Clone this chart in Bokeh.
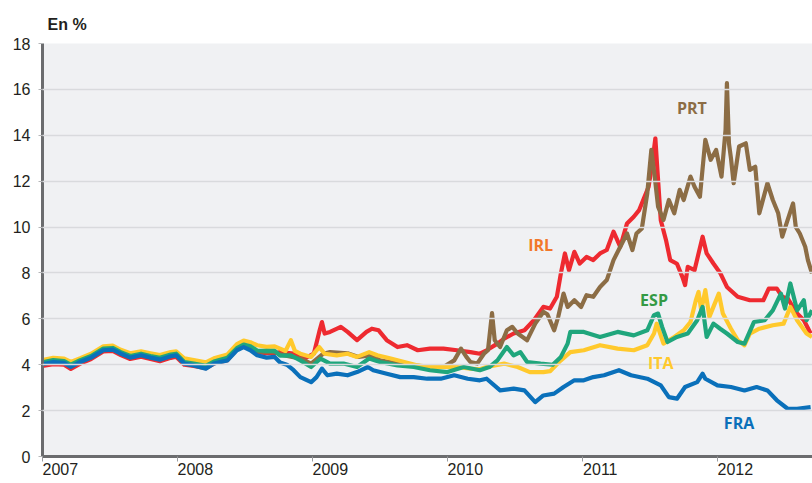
from bokeh.plotting import figure
from bokeh.models import FixedTicker, Label, LinearAxis, Range1d
from bokeh.embed import file_html
from bokeh.resources import INLINE

# ---- data (decimal years, % yields) ----
early_t = [2007.0, 2007.08, 2007.16, 2007.21, 2007.28, 2007.36, 2007.45, 2007.52, 2007.58, 2007.65,
           2007.73, 2007.80, 2007.87, 2007.95, 2007.99, 2008.05, 2008.12, 2008.21, 2008.27, 2008.37,
           2008.44, 2008.49, 2008.54, 2008.59, 2008.66, 2008.72]

fra_t = early_t + [2008.76, 2008.81, 2008.86, 2008.91, 2008.95, 2008.99, 2009.03, 2009.07, 2009.11, 2009.18,
                   2009.26, 2009.33, 2009.41, 2009.45, 2009.55, 2009.65, 2009.75, 2009.85, 2009.95, 2010.05,
                   2010.15, 2010.24, 2010.29, 2010.39, 2010.49, 2010.57, 2010.65, 2010.71, 2010.79, 2010.86,
                   2010.94, 2011.01, 2011.08, 2011.16, 2011.27, 2011.36, 2011.48, 2011.58, 2011.64, 2011.70,
                   2011.76, 2011.85, 2011.89, 2011.91, 2012.0, 2012.10, 2012.20, 2012.29, 2012.37, 2012.44,
                   2012.52, 2012.59, 2012.69]
fra_v = [4.02, 4.12, 4.08, 3.90, 4.12, 4.31, 4.63, 4.66, 4.48, 4.31, 4.41, 4.31, 4.22, 4.37, 4.41, 4.05,
         3.97, 3.83, 4.05, 4.19, 4.63, 4.77, 4.63, 4.41, 4.31, 4.34,
         4.10, 4.00, 3.76, 3.46, 3.35, 3.24, 3.46, 3.83, 3.54, 3.61,
         3.54, 3.68, 3.90, 3.76, 3.61, 3.46, 3.46, 3.39, 3.39, 3.54,
         3.39, 3.32, 3.39, 2.88, 2.96, 2.88, 2.37, 2.66, 2.74, 3.03,
         3.32, 3.32, 3.46, 3.54, 3.76, 3.54, 3.39, 3.10, 2.59, 2.52,
         3.03, 3.24, 3.61, 3.39, 3.10, 3.03, 2.88, 3.03, 2.88, 2.45,
         2.08, 2.08, 2.15]

ita_t = early_t + [2008.76, 2008.80, 2008.84, 2008.87, 2008.91, 2008.99, 2009.05, 2009.09, 2009.18, 2009.26,
                   2009.33, 2009.42, 2009.48, 2009.58, 2009.68, 2009.78, 2009.87, 2009.97, 2010.07, 2010.17,
                   2010.24, 2010.29, 2010.42, 2010.52, 2010.61, 2010.71, 2010.76, 2010.84, 2010.91, 2011.01,
                   2011.13, 2011.26, 2011.38, 2011.48, 2011.53, 2011.55, 2011.60, 2011.68, 2011.75, 2011.80,
                   2011.84, 2011.86, 2011.88, 2011.91, 2011.94, 2011.97, 2012.01, 2012.04, 2012.10, 2012.15,
                   2012.20, 2012.24, 2012.31, 2012.41, 2012.49, 2012.54, 2012.59, 2012.66, 2012.70]
ita_v = [4.20, 4.30, 4.27, 4.12, 4.28, 4.48, 4.80, 4.83, 4.65, 4.50, 4.58, 4.50, 4.42, 4.55, 4.58, 4.28,
         4.20, 4.10, 4.28, 4.45, 4.90, 5.05, 4.98, 4.85, 4.78, 4.80,
         4.70, 4.60, 5.07, 4.60, 4.48, 4.34, 4.77, 4.48, 4.41, 4.48,
         4.34, 4.55, 4.41, 4.27, 4.12, 3.97, 3.90, 3.90, 3.90, 3.83,
         3.80, 3.90, 4.05, 3.90, 3.68, 3.68, 3.72, 4.19, 4.55, 4.63,
         4.85, 4.70, 4.63, 4.85, 5.36, 5.79, 4.92, 5.21, 5.50, 5.86,
         6.81, 7.17, 6.37, 7.25, 6.08, 6.52, 7.10, 6.23, 5.57, 5.07,
         4.85, 5.36, 5.57, 5.72, 5.79, 6.52, 5.94, 5.36, 5.21]

esp_t = early_t + [2008.76, 2008.84, 2008.91, 2008.99, 2009.06, 2009.13, 2009.23, 2009.33, 2009.42, 2009.50,
                   2009.63, 2009.75, 2009.87, 2010.0, 2010.12, 2010.24, 2010.31, 2010.37, 2010.44, 2010.49,
                   2010.54, 2010.59, 2010.69, 2010.78, 2010.84, 2010.89, 2010.91, 2011.01, 2011.13, 2011.26,
                   2011.38, 2011.48, 2011.53, 2011.56, 2011.59, 2011.63, 2011.70, 2011.78, 2011.85, 2011.89,
                   2011.92, 2011.97, 2012.02, 2012.07, 2012.15, 2012.20, 2012.27, 2012.35, 2012.41, 2012.47,
                   2012.50, 2012.54, 2012.59, 2012.64, 2012.66, 2012.70]
esp_v = [4.10, 4.20, 4.16, 4.00, 4.20, 4.38, 4.70, 4.73, 4.55, 4.38, 4.48, 4.38, 4.30, 4.44, 4.48, 4.12,
         4.05, 3.95, 4.14, 4.30, 4.72, 4.88, 4.80, 4.62, 4.60, 4.60,
         4.40, 4.41, 4.19, 3.90, 4.27, 4.05, 4.05, 3.90, 4.27, 4.12,
         3.97, 3.90, 3.76, 3.68, 3.90, 3.76, 3.90, 4.19, 4.77, 4.41,
         4.55, 4.12, 4.05, 4.00, 4.34, 4.92, 5.43, 5.43, 5.21, 5.43,
         5.28, 5.50, 6.16, 6.23, 5.65, 4.99, 5.21, 5.36, 5.94, 6.52,
         5.21, 5.79, 5.57, 5.36, 4.99, 4.92, 5.86, 5.94, 6.37, 7.10,
         6.45, 7.54, 6.37, 6.81, 5.94, 6.37]

irl_t = early_t + [2008.76, 2008.86, 2008.94, 2009.01, 2009.05, 2009.07, 2009.09, 2009.13, 2009.21, 2009.26,
                   2009.33, 2009.40, 2009.44, 2009.49, 2009.55, 2009.63, 2009.70, 2009.78, 2009.87, 2009.97,
                   2010.07, 2010.17, 2010.24, 2010.29, 2010.37, 2010.42, 2010.49, 2010.57, 2010.64, 2010.71,
                   2010.76, 2010.81, 2010.84, 2010.87, 2010.90, 2010.94, 2010.98, 2011.03, 2011.08, 2011.13,
                   2011.18, 2011.23, 2011.28, 2011.33, 2011.38, 2011.42, 2011.45, 2011.49, 2011.52, 2011.54,
                   2011.555, 2011.58, 2011.62, 2011.65, 2011.70, 2011.74, 2011.76, 2011.78, 2011.83, 2011.89,
                   2011.92, 2011.97, 2012.02, 2012.07, 2012.15, 2012.24, 2012.34, 2012.38, 2012.44, 2012.48,
                   2012.52, 2012.59, 2012.64, 2012.69]
irl_v = [3.95, 4.02, 4.00, 3.82, 4.05, 4.25, 4.58, 4.60, 4.42, 4.25, 4.35, 4.25, 4.15, 4.30, 4.35, 4.00,
         3.95, 3.85, 4.05, 4.20, 4.68, 4.82, 4.70, 4.55, 4.50, 4.50,
         4.55, 4.48, 4.27, 4.48, 5.43, 5.86, 5.36, 5.43, 5.65, 5.43,
         5.07, 5.43, 5.57, 5.50, 5.07, 4.77, 4.85, 4.63, 4.70, 4.70,
         4.63, 4.55, 4.48, 4.63, 4.92, 5.14, 5.36, 5.50, 5.94, 6.52,
         6.45, 6.96, 7.98, 8.85, 8.12, 8.92, 8.41, 8.70, 8.56, 8.85,
         9.00, 9.80, 9.14, 10.16, 10.45, 10.74, 11.18, 11.76, 12.93, 13.87,
         12.49, 10.30, 9.40, 8.56, 8.40, 7.83, 7.47, 8.27, 8.12, 9.58,
         8.85, 8.41, 8.00, 7.39, 6.96, 6.81, 6.81, 7.32, 7.32, 6.96,
         6.89, 6.23, 5.94, 5.36]

prt_t = early_t + [2008.76, 2008.84, 2008.91, 2008.99, 2009.08, 2009.13, 2009.26, 2009.34, 2009.43, 2009.50,
                   2009.63, 2009.75, 2009.87, 2009.97, 2010.05, 2010.10, 2010.14, 2010.17, 2010.22, 2010.27,
                   2010.30, 2010.33, 2010.35, 2010.39, 2010.44, 2010.48, 2010.52, 2010.59, 2010.65, 2010.71,
                   2010.74, 2010.79, 2010.82, 2010.86, 2010.89, 2010.94, 2010.99, 2011.03, 2011.08, 2011.13,
                   2011.18, 2011.23, 2011.28, 2011.33, 2011.37, 2011.40, 2011.44, 2011.48, 2011.51, 2011.535,
                   2011.56, 2011.58, 2011.60, 2011.64, 2011.68, 2011.72, 2011.75, 2011.80, 2011.83, 2011.87,
                   2011.91, 2011.95, 2011.99, 2012.03, 2012.06, 2012.07, 2012.085, 2012.10, 2012.12, 2012.16,
                   2012.21, 2012.24, 2012.28, 2012.31, 2012.37, 2012.41, 2012.45, 2012.48, 2012.52, 2012.56,
                   2012.58, 2012.61, 2012.65, 2012.67, 2012.70]
prt_v = [4.05, 4.12, 4.10, 3.95, 4.14, 4.32, 4.65, 4.68, 4.50, 4.33, 4.43, 4.33, 4.25, 4.40, 4.43, 4.08,
         4.00, 3.90, 4.10, 4.25, 4.70, 4.84, 4.75, 4.58, 4.55, 4.55,
         4.45, 4.35, 4.27, 4.05, 4.48, 4.55, 4.50, 4.34, 4.41, 4.19,
         4.05, 3.97, 3.90, 3.90, 4.19, 4.70, 4.34, 4.12, 4.05, 4.48,
         4.63, 6.25, 5.07, 4.77, 5.50, 5.65, 5.36, 5.07, 5.79, 6.30,
         6.20, 5.50, 6.08, 7.10, 6.52, 6.81, 6.52, 7.03, 6.96, 7.39,
         7.69, 8.56, 9.14, 9.72, 9.00, 9.72, 9.94, 11.47, 13.36, 12.20,
         10.89, 10.60, 10.31, 11.18, 10.60, 11.62, 11.18, 12.20, 11.76, 11.32,
         13.80, 12.93, 13.36, 12.20, 14.24, 16.27, 13.65, 13.00, 11.91, 13.51,
         13.65, 12.49, 12.63, 10.60, 11.91, 11.18, 10.60, 9.58, 10.31, 11.03,
         10.01, 9.72, 9.14, 8.56, 7.98]

year_ticks = [2007, 2008, 2009, 2010, 2011, 2012]
year_labels = ["2007", "2008", "2009", "2010", "2011", "2012"]
y_ticks = [0, 2, 4, 6, 8, 10, 12, 14, 16, 18]

series_names = ["IRL", "PRT", "ITA", "ESP", "FRA"]
series_label_x = [2010.69, 2011.81, 2011.58, 2011.53, 2012.16]
series_label_y = [9.21, 15.2, 4.06, 6.81, 1.44]

# ---- styling ----
line_colors = {"IRL": "#ee2a30", "PRT": "#8c6d45", "ITA": "#ffc92c", "ESP": "#1fa67c", "FRA": "#0a70ba"}
label_colors = {"IRL": "#f2782a", "PRT": "#8c6d45", "ITA": "#ffc92c", "ESP": "#349a44", "FRA": "#0a70ba"}
FONT = "Liberation Sans"
X_START, X_END = 2007.0, 2012.704
LABEL_SHIFT = 0.132  # year labels start at their tick (left-aligned look)

p = figure(width=812, height=483, x_range=(X_START, X_END), y_range=(0, 18),
           output_backend="svg", toolbar_location=None,
           min_border_left=42, min_border_right=0, min_border_top=43, min_border_bottom=27)
p.background_fill_color = "#f0f1f3"
p.border_fill_color = "white"
p.outline_line_color = None

data = {"IRL": (irl_t, irl_v), "PRT": (prt_t, prt_v), "ITA": (ita_t, ita_v),
        "ESP": (esp_t, esp_v), "FRA": (fra_t, fra_v)}
for name in series_names:
    t, v = data[name]
    p.line(t, v, line_color=line_colors[name], line_width=4.2, line_join="round")

# grid
p.xgrid.visible = False
p.ygrid.ticker = FixedTicker(ticks=y_ticks)
p.ygrid.grid_line_color = "#d9dadd"
p.ygrid.grid_line_width = 1.6
p.ygrid.level = "annotation"

# y axis
p.yaxis.ticker = FixedTicker(ticks=y_ticks)
p.yaxis.axis_line_color = "#6b6c6e"
p.yaxis.axis_line_width = 3
p.yaxis.major_tick_line_color = "#b5b6b8"
p.yaxis.major_tick_out = 4
p.yaxis.major_tick_in = 0
p.yaxis.minor_tick_line_color = None
p.yaxis.major_label_standoff = 8
p.yaxis.major_label_text_font = FONT
p.yaxis.major_label_text_font_size = "16px"
p.yaxis.major_label_text_color = "#231f20"

# x axis: ticks only
p.xaxis.ticker = FixedTicker(ticks=year_ticks)
p.xaxis.major_label_overrides = {y: "" for y in year_ticks}
p.xaxis.major_label_text_font_size = "0px"
p.xaxis.major_label_standoff = 0
p.xaxis.axis_line_color = "#6b6c6e"
p.xaxis.axis_line_width = 3
p.xaxis.major_tick_line_color = "#9a9b9d"
p.xaxis.major_tick_out = 5
p.xaxis.major_tick_in = 0
p.xaxis.minor_tick_line_color = None

# second x axis: year labels, shifted so they start at their tick
p.extra_x_ranges = {"labels": Range1d(X_START - LABEL_SHIFT, X_END - LABEL_SHIFT)}
lab_axis = LinearAxis(x_range_name="labels", ticker=FixedTicker(ticks=year_ticks),
                      major_label_overrides=dict(zip(year_ticks, year_labels)))
lab_axis.axis_line_color = None
lab_axis.major_tick_line_color = None
lab_axis.minor_tick_line_color = None
lab_axis.major_tick_out = 0
lab_axis.major_tick_in = 0
lab_axis.major_label_standoff = 1
lab_axis.major_label_text_font = FONT
lab_axis.major_label_text_font_size = "16px"
lab_axis.major_label_text_color = "#231f20"
p.add_layout(lab_axis, "below")

# title
p.title.text = "En %"
p.title.align = "left"
p.title.offset = 5
p.title.standoff = 22
p.title.text_font = FONT
p.title.text_font_size = "16px"
p.title.text_font_style = "bold"
p.title.text_color = "#231f20"

# series labels
for name, lx, ly in zip(series_names, series_label_x, series_label_y):
    p.add_layout(Label(x=lx, y=ly, text=name, text_align="center", text_baseline="middle",
                       text_font="Open Sans", text_font_size="16px", text_font_style="bold",
                       text_color=label_colors[name]))

open("out.html", "w").write(file_html(p, INLINE))
